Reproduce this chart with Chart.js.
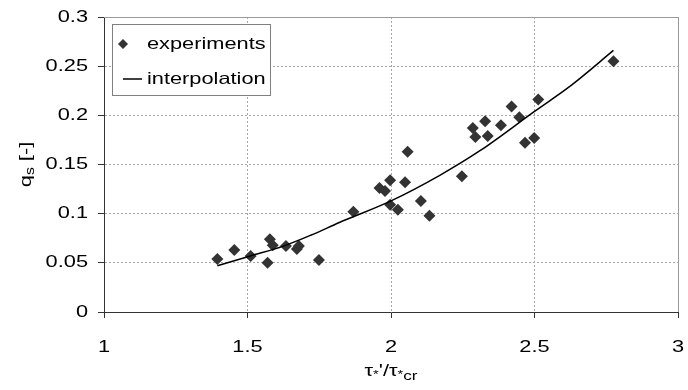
<!DOCTYPE html>
<html>
<head>
<meta charset="utf-8">
<script src="https://cdn.jsdelivr.net/npm/chart.js@4/dist/chart.umd.min.js"></script>
<style>
html,body{margin:0;padding:0;background:#fff;}
#wrap{width:688px;height:390px;position:relative;}
</style>
</head>
<body>
<div id="wrap"><canvas id="c" width="688" height="390"></canvas></div>
<script>
// ---- data ----
const expX = [1.395, 1.454, 1.511, 1.570, 1.578, 1.588, 1.634, 1.672, 1.679, 1.749,
              1.869, 1.960, 1.979, 1.997, 1.997, 2.024, 2.049, 2.058, 2.104, 2.134,
              2.247, 2.285, 2.294, 2.328, 2.337, 2.383, 2.420, 2.447, 2.467, 2.499,
              2.513, 2.775];
const expY = [0.054, 0.063, 0.057, 0.050, 0.074, 0.068, 0.067, 0.064, 0.067, 0.053,
              0.102, 0.126, 0.123, 0.134, 0.109, 0.104, 0.132, 0.163, 0.113, 0.098,
              0.138, 0.187, 0.178, 0.194, 0.179, 0.190, 0.209, 0.198, 0.172, 0.177,
              0.216, 0.255];
const fitX = [1.395, 1.51, 1.625, 1.72, 1.82, 2.0, 2.17, 2.31, 2.5, 2.63, 2.775];
const fitY = [0.047, 0.057, 0.067, 0.078, 0.091, 0.113, 0.139, 0.164, 0.204, 0.231, 0.266];
const xTicks = [1, 1.5, 2, 2.5, 3];
const yTicks = [0, 0.05, 0.1, 0.15, 0.2, 0.25, 0.3];
const seriesNames = ['experiments', 'interpolation'];

// horizontally widened text (the reference lettering is stretched)
const SX = 1.32;
const origFill = CanvasRenderingContext2D.prototype.fillText;
CanvasRenderingContext2D.prototype.fillText = function(t, x, y, mw) {
  this.save();
  this.translate(x, y);
  this.scale(SX, 1);
  if (mw !== undefined) origFill.call(this, t, 0, 0, mw / SX);
  else origFill.call(this, t, 0, 0);
  this.restore();
};

const FONT = 'Liberation Sans, Arial, sans-serif';
const FS = 16.5;

const frame = {
  id: 'frame',
  beforeDatasetsDraw(chart) {
    const {ctx, chartArea: a} = chart;
    ctx.save();
    ctx.strokeStyle = '#9a9a9a';
    ctx.lineWidth = 1;
    ctx.beginPath();
    ctx.moveTo(a.left, a.top + 0.5);
    ctx.lineTo(a.right + 0.5, a.top + 0.5);
    ctx.lineTo(a.right + 0.5, a.bottom);
    ctx.stroke();
    ctx.restore();
  },
  afterDraw(chart) {
    const {ctx, chartArea: a} = chart;
    ctx.save();
    ctx.fillStyle = '#000';
    // y title: q_s [-]
    ctx.translate(25, (a.top + a.bottom) / 2);
    ctx.rotate(-Math.PI / 2);
    ctx.textBaseline = 'alphabetic';
    ctx.textAlign = 'left';
    const big = FS + 'px ' + FONT, small = '12px ' + FONT;
    ctx.font = big;
    const wq = ctx.measureText('q').width * SX;
    ctx.font = small;
    const ws = ctx.measureText('s').width * SX;
    ctx.font = big;
    const wr = ctx.measureText(' [-]').width * SX;
    let x0 = -(wq + ws + wr) / 2;
    ctx.font = big; ctx.fillText('q', x0, 6);
    ctx.font = small; ctx.fillText('s', x0 + wq, 9);
    ctx.font = big; ctx.fillText(' [-]', x0 + wq + ws, 6);
    ctx.restore();

    // x title: τ*'/τ*cr
    ctx.save();
    ctx.fillStyle = '#000';
    ctx.textBaseline = 'alphabetic';
    ctx.textAlign = 'left';
    const parts = [['τ', big, 0], ['*', '11px ' + FONT, 2], ["'/τ", big, 0], ['*', '11px ' + FONT, 2], ['cr', '13px ' + FONT, 4]];
    let tw = 0;
    parts.forEach(p => { ctx.font = p[1]; p.push(ctx.measureText(p[0]).width * SX); tw += p[3]; });
    let xx = (a.left + a.right) / 2 - tw / 2;
    const by = 376;
    parts.forEach(p => { ctx.font = p[1]; ctx.fillText(p[0], xx, by + p[2]); xx += p[3]; });
    ctx.restore();

    // legend
    ctx.save();
    ctx.fillStyle = '#fff';
    ctx.strokeStyle = '#808080';
    ctx.lineWidth = 1;
    ctx.fillRect(112.5, 24.5, 158, 71);
    ctx.strokeRect(112.5, 24.5, 158, 71);
    ctx.fillStyle = '#333';
    const dx = 123, dy = 44, r = 5;
    ctx.beginPath();
    ctx.moveTo(dx, dy - r); ctx.lineTo(dx + r, dy); ctx.lineTo(dx, dy + r); ctx.lineTo(dx - r, dy); ctx.closePath();
    ctx.fill();
    ctx.strokeStyle = '#000';
    ctx.lineWidth = 1.5;
    ctx.beginPath(); ctx.moveTo(123, 79); ctx.lineTo(142, 79); ctx.stroke();
    ctx.fillStyle = '#000';
    ctx.font = FS + 'px ' + FONT;
    ctx.textBaseline = 'middle';
    ctx.fillText(seriesNames[0], 147, 44);
    ctx.fillText(seriesNames[1], 147, 79);
    ctx.restore();
  }
};

const fmt = v => String(Number(v.toFixed(2)));

new Chart(document.getElementById('c'), {
  type: 'scatter',
  data: {
    datasets: [
      {
        label: seriesNames[0],
        data: expX.map((x, i) => ({x: x, y: expY[i]})),
        pointStyle: 'rectRot',
        pointRadius: 6,
        pointBackgroundColor: '#333',
        pointBorderColor: '#333',
        pointBorderWidth: 0,
        showLine: false,
        order: 1
      },
      {
        label: seriesNames[1],
        data: fitX.map((x, i) => ({x: x, y: fitY[i]})),
        showLine: true,
        borderColor: '#000',
        borderWidth: 1.5,
        pointRadius: 0,
        cubicInterpolationMode: 'monotone',
        fill: false,
        order: 0
      }
    ]
  },
  options: {
    responsive: false,
    animation: false,
    devicePixelRatio: 1,
    layout: {padding: {left: 0, top: 17, right: 10, bottom: 0}},
    plugins: {legend: {display: false}, tooltip: {enabled: false}},
    scales: {
      x: {
        type: 'linear', min: 1, max: 3,
        afterBuildTicks: s => { s.ticks = xTicks.map(v => ({value: v})); },
        afterFit: s => { s.height = 78; s.paddingLeft = 0; s.paddingRight = 0; },
        grid: {color: '#a8a8a8', tickLength: 6, tickColor: '#333', lineWidth: 1},
        border: {color: '#333', width: 1, dash: [2, 2]},
        ticks: {color: '#000', padding: 20, maxRotation: 0, font: {family: FONT, size: FS}, callback: v => fmt(v)}
      },
      y: {
        type: 'linear', min: 0, max: 0.3,
        afterBuildTicks: s => { s.ticks = yTicks.map(v => ({value: v})); },
        afterFit: s => { s.width = 104; s.paddingTop = 0; s.paddingBottom = 0; },
        grid: {color: '#a8a8a8', tickLength: 6, tickColor: '#333', lineWidth: 1},
        border: {color: '#333', width: 1, dash: [2, 2]},
        ticks: {color: '#000', padding: 10, font: {family: FONT, size: FS}, callback: v => fmt(v)}
      }
    }
  },
  plugins: [frame]
});
</script>
</body>
</html>
